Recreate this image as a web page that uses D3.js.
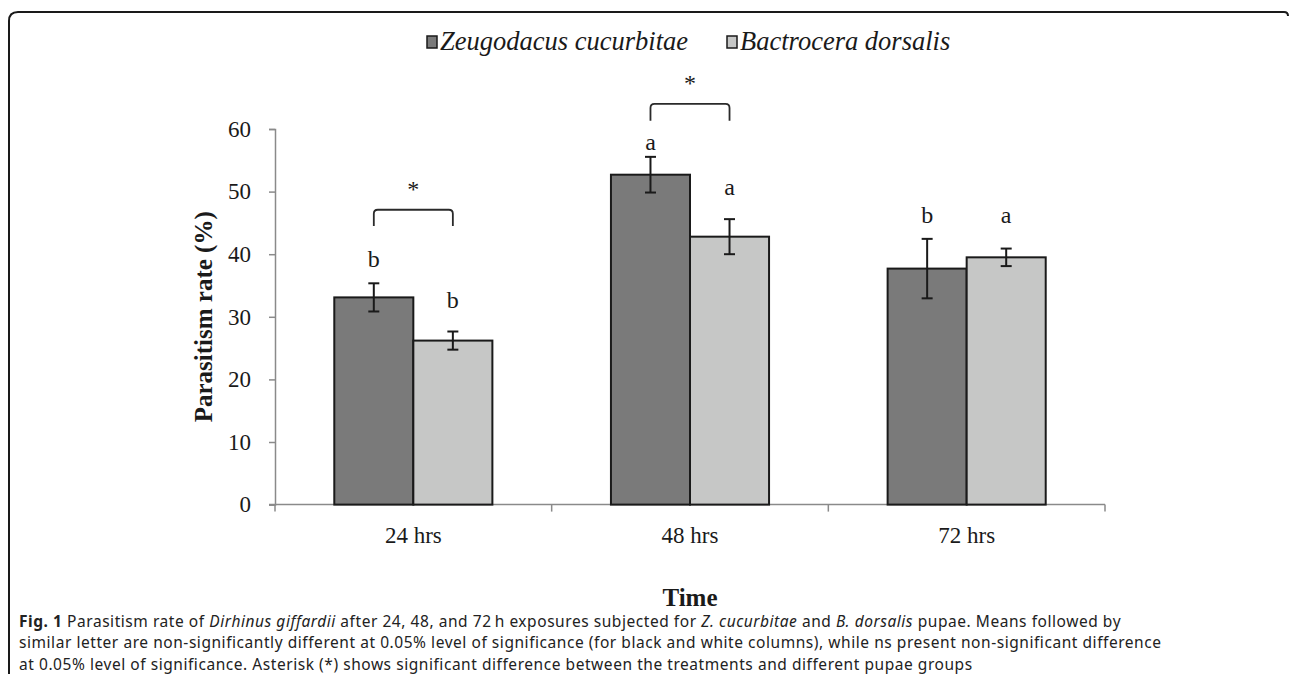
<!DOCTYPE html>
<html>
<head>
<meta charset="utf-8">
<script src="https://cdn.jsdelivr.net/npm/d3@7"></script>
<style>
  html, body { margin: 0; padding: 0; background: #fff; }
  svg { display: block; }
</style>
</head>
<body>
<svg id="chart" width="1290" height="674"></svg>
<script>
// ---- data ----
const categories = ["24 hrs", "48 hrs", "72 hrs"];
const seriesNames = ["Zeugodacus cucurbitae", "Bactrocera dorsalis"];
const zcMeans = [33.1, 52.7, 37.7];
const zcErrors = [2.25, 2.85, 4.75];
const bdMeans = [26.2, 42.8, 39.5];
const bdErrors = [1.45, 2.8, 1.4];
const zcLetters = ["b", "a", "b"];
const bdLetters = ["b", "a", "a"];
const zcLetterLevel = [38.0, 56.6, 45.0];
const bdLetterLevel = [31.4, 49.4, 45.0];
const bracketCats = ["24 hrs", "48 hrs"];
const bracketLevel = [47.1, 64.0];
const bracketLeg = [2.6, 2.7];
const yTicks = [0, 10, 20, 30, 40, 50, 60];

const colors = ["#7a7a7a", "#c6c7c6"];
const serif = "'Liberation Serif', 'Times New Roman', serif";

const svg = d3.select("#chart");

// frame
svg.append("path")
  .attr("d", "M9,674 V21 Q9,12 18,12 H1284 Q1288,12 1288,16")
  .attr("fill", "none").attr("stroke", "#1a1a1a").attr("stroke-width", 2);

const x0 = d3.scaleBand().domain(categories).range([275, 1105]).paddingInner(0).paddingOuter(0);
const x1 = d3.scaleBand().domain(seriesNames).range([0, x0.bandwidth()]).paddingInner(0).paddingOuter(0.75);
const y = d3.scaleLinear().domain([0, 60]).range([504.6, 129]);

const rows = categories.map((c, i) => ({
  cat: c,
  vals: [
    { s: seriesNames[0], v: zcMeans[i], e: zcErrors[i], l: zcLetters[i], ly: zcLetterLevel[i], k: 0 },
    { s: seriesNames[1], v: bdMeans[i], e: bdErrors[i], l: bdLetters[i], ly: bdLetterLevel[i], k: 1 }
  ]
}));

// y axis
const yAxis = svg.append("g").attr("transform", "translate(275,0)")
  .call(d3.axisLeft(y).tickValues(yTicks).tickSize(6).tickPadding(18));
yAxis.select(".domain").attr("stroke", "#8a8a8a").attr("stroke-width", 1.5);
yAxis.selectAll(".tick line").attr("stroke", "#8a8a8a").attr("stroke-width", 1.5);
yAxis.selectAll(".tick text")
  .attr("font-family", serif)
  .attr("font-size", 23).attr("fill", "#1a1a1a");

// x axis
const xAxis = svg.append("g").attr("transform", `translate(0,${y(0)})`)
  .call(d3.axisBottom(x0).tickSize(0).tickPadding(22));
xAxis.select(".domain").attr("stroke", "#8a8a8a").attr("stroke-width", 1.5)
  .attr("d", `M269,0H1105`);
xAxis.selectAll(".tick text")
  .attr("font-family", serif)
  .attr("font-size", 23).attr("fill", "#1a1a1a");
// category boundary ticks
const bounds = categories.map(c => x0(c)).concat([x0(categories[categories.length - 1]) + x0.bandwidth()]);
xAxis.selectAll("line.bound").data(bounds).enter().append("line")
  .attr("x1", d => d).attr("x2", d => d).attr("y1", 0).attr("y2", 7)
  .attr("stroke", "#8a8a8a").attr("stroke-width", 1.5);

// bars
const groups = svg.append("g").selectAll("g").data(rows).enter().append("g")
  .attr("transform", d => `translate(${x0(d.cat)},0)`);

groups.selectAll("rect").data(d => d.vals).enter().append("rect")
  .attr("x", d => x1(d.s))
  .attr("y", d => y(d.v))
  .attr("width", x1.bandwidth())
  .attr("height", d => y(0) - y(d.v))
  .attr("fill", d => colors[d.k])
  .attr("stroke", "#1a1a1a").attr("stroke-width", 2);

// error bars
const eb = groups.selectAll("g.err").data(d => d.vals).enter().append("g").attr("class", "err")
  .attr("transform", d => `translate(${x1(d.s) + x1.bandwidth() / 2},0)`);
eb.append("line").attr("y1", d => y(d.v + d.e)).attr("y2", d => y(d.v - d.e))
  .attr("stroke", "#1a1a1a").attr("stroke-width", 2);
eb.append("line").attr("x1", -5.5).attr("x2", 5.5).attr("y1", d => y(d.v + d.e)).attr("y2", d => y(d.v + d.e))
  .attr("stroke", "#1a1a1a").attr("stroke-width", 2);
eb.append("line").attr("x1", -5.5).attr("x2", 5.5).attr("y1", d => y(d.v - d.e)).attr("y2", d => y(d.v - d.e))
  .attr("stroke", "#1a1a1a").attr("stroke-width", 2);

// letters
eb.append("text")
  .attr("y", d => y(d.ly))
  .attr("text-anchor", "middle")
  .attr("font-family", serif)
  .attr("font-size", 24).attr("fill", "#1a1a1a")
  .text(d => d.l);

// brackets
bracketCats.forEach((c, i) => {
  const xa = x0(c) + x1(seriesNames[0]) + x1.bandwidth() / 2;
  const xb = x0(c) + x1(seriesNames[1]) + x1.bandwidth() / 2;
  const yt = y(bracketLevel[i]);
  const yb = y(bracketLevel[i] - bracketLeg[i]);
  const r = 4;
  svg.append("path")
    .attr("d", `M${xa},${yb} V${yt + r} Q${xa},${yt} ${xa + r},${yt} H${xb - r} Q${xb},${yt} ${xb},${yt + r} V${yb}`)
    .attr("fill", "none").attr("stroke", "#2a2a2a").attr("stroke-width", 1.8);
  svg.append("text")
    .attr("x", (xa + xb) / 2).attr("y", yt - 13)
    .attr("text-anchor", "middle")
    .attr("font-family", serif)
    .attr("font-size", 24).attr("fill", "#1a1a1a")
    .text("*");
});

// axis titles
svg.append("text")
  .attr("transform", `translate(212,${(y(0) + y(60)) / 2}) rotate(-90)`)
  .attr("text-anchor", "middle")
  .attr("font-family", serif)
  .attr("font-weight", "bold").attr("font-size", 25).attr("fill", "#1a1a1a")
  .text("Parasitism rate (%)");
svg.append("text")
  .attr("x", (275 + 1105) / 2).attr("y", 606)
  .attr("text-anchor", "middle")
  .attr("font-family", serif)
  .attr("font-weight", "bold").attr("font-size", 25).attr("fill", "#1a1a1a")
  .text("Time");

// legend
const legendX = [427, 727];
const leg = svg.append("g").selectAll("g").data(seriesNames).enter().append("g")
  .attr("transform", (d, i) => `translate(${legendX[i]},0)`);
leg.append("rect").attr("x", 0).attr("y", 36).attr("width", 10).attr("height", 12)
  .attr("fill", (d, i) => colors[i]).attr("stroke", "#1a1a1a").attr("stroke-width", 1.5);
leg.append("text").attr("x", 13).attr("y", 50)
  .attr("font-family", serif)
  .attr("font-style", "italic").attr("font-size", 26.5).attr("fill", "#1a1a1a")
  .text(d => d);

// caption
const capLines = [
  [["b", "Fig. 1"], ["n", " Parasitism rate of "], ["i", "Dirhinus giffardii"], ["n", " after 24, 48, and 72\u2009h exposures subjected for "], ["i", "Z. cucurbitae"], ["n", " and "], ["i", "B. dorsalis"], ["n", " pupae. Means followed by"]],
  [["n", "similar letter are non-significantly different at 0.05% level of significance (for black and white columns), while ns present non-significant difference"]],
  [["n", "at 0.05% level of significance. Asterisk (*) shows significant difference between the treatments and different pupae groups"]]
];
const capY = [626.5, 648, 669.5];
capLines.forEach((line, i) => {
  const t = svg.append("text").attr("x", 19).attr("y", capY[i])
    .attr("font-family", "'Noto Sans', 'Open Sans', sans-serif")
    .attr("font-size", 15.5).attr("letter-spacing", 0.55).attr("fill", "#222");
  line.forEach(([st, s]) => {
    const ts = t.append("tspan").text(s);
    if (st === "b") ts.attr("font-weight", "bold");
    if (st === "i") ts.attr("font-style", "italic");
  });
});
</script>
</body>
</html>
